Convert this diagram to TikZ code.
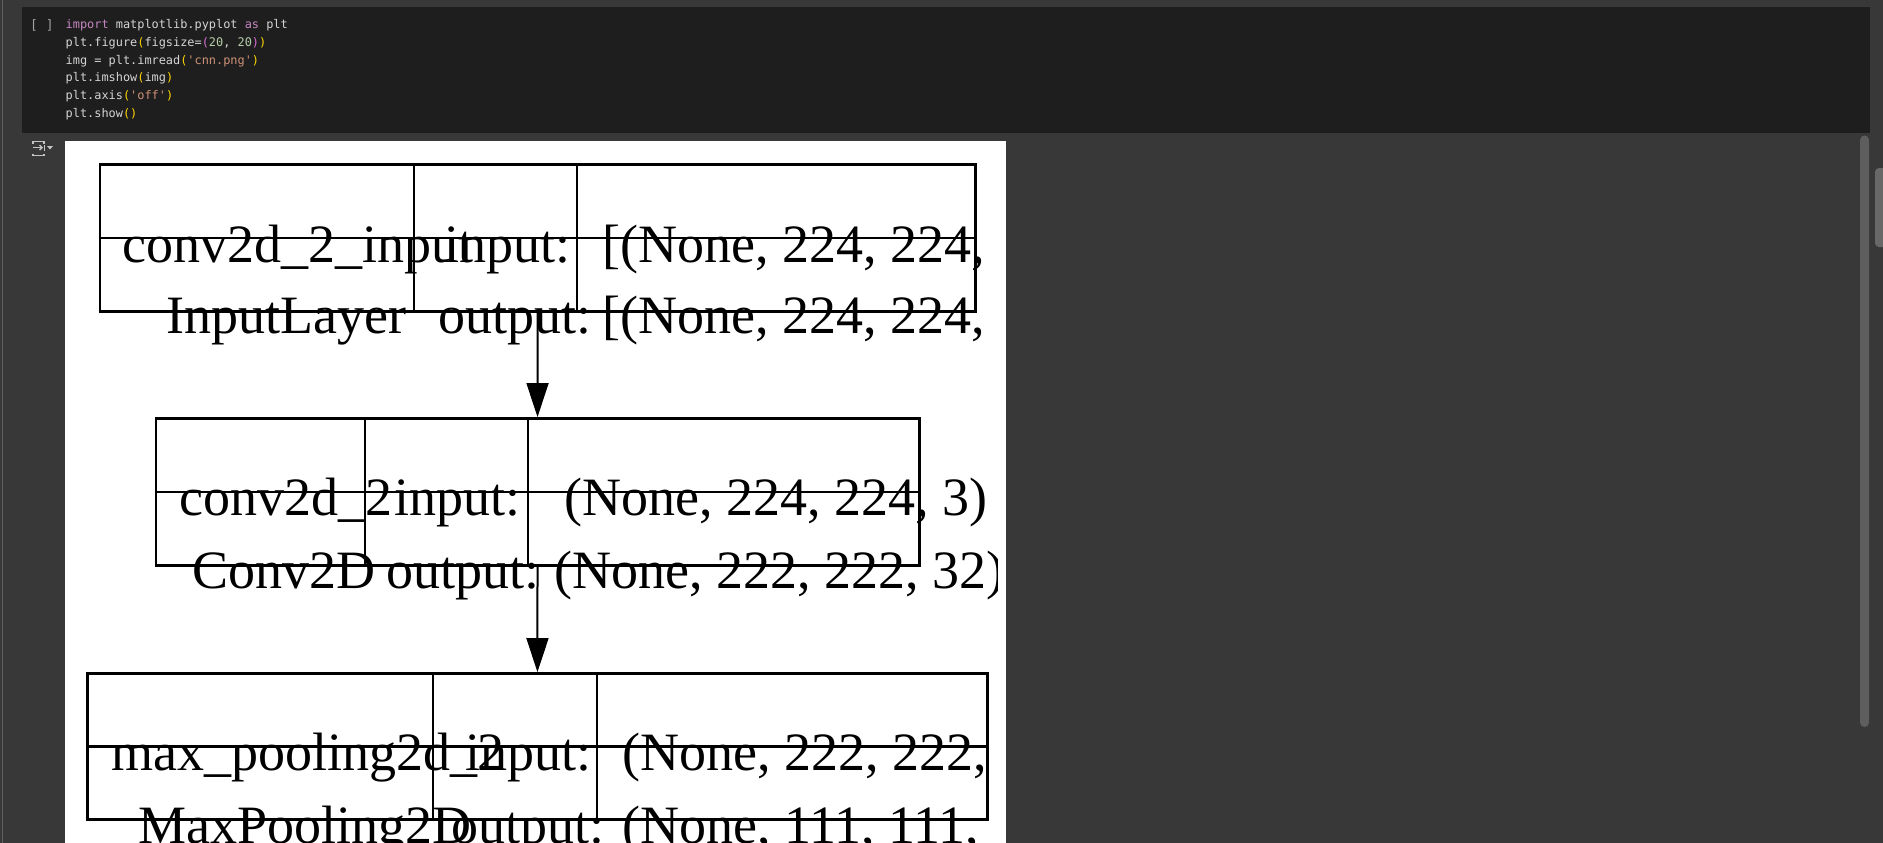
\documentclass[tikz,border=0pt]{standalone}
\usepackage{fontspec}
\setmainfont{Liberation Serif}
\setmonofont{DejaVu Sans Mono}
\usepackage{xcolor}
\usetikzlibrary{arrows.meta,positioning}

\definecolor{pagebg}{HTML}{383838}
\definecolor{cellbg}{HTML}{1E1E1E}
\definecolor{codefg}{HTML}{D4D4D4}
\definecolor{kwcol}{HTML}{C586C0}
\definecolor{numcol}{HTML}{B5CEA8}
\definecolor{strcol}{HTML}{CE9178}
\definecolor{bracecol}{HTML}{FFD700}
\definecolor{bracetwo}{HTML}{DA70D6}
\definecolor{iconcol}{HTML}{C4C4C4}
\definecolor{trackcol}{HTML}{5E5E5E}
\definecolor{thumbcol}{HTML}{686868}

\begin{document}
\begin{tikzpicture}[x=1pt,y=-1pt,
  box/.style={draw,line width=2.5pt,rectangle,inner sep=0pt,anchor=north west},
  lbl/.style={anchor=base west,inner sep=0pt,font=\fontsize{54}{54}\selectfont},
  codeline/.style={anchor=base west,inner sep=0pt,text=codefg,font=\ttfamily\fontsize{11.9}{11.9}\selectfont},
  flow/.style={line width=2pt,-{Triangle[length=34pt,width=22pt]}}]
\useasboundingbox (0,0) rectangle (1883,843);
\fill[pagebg] (0,0) rectangle (1883,843);
\draw[line width=0.8pt,color=pagebg!80!white] (2.5,0) -- (2.5,843);

% code cell
\fill[cellbg] (22,7) rectangle (1870,132.5);
\node[codeline,text=codefg!75!black,font=\ttfamily\fontsize{13}{13}\selectfont] (runmark) at (30,29.5) {[ ]};
\node[codeline] (line1) at (65.5,28.5) {\textcolor{kwcol}{import} matplotlib.pyplot \textcolor{kwcol}{as} plt};
\node[codeline] (line2) at (65.5,46.3) {plt.figure\textcolor{bracecol}{(}figsize=\textcolor{bracetwo}{(}\textcolor{numcol}{20}, \textcolor{numcol}{20}\textcolor{bracetwo}{)}\textcolor{bracecol}{)}};
\node[codeline] (line3) at (65.5,64.1) {img = plt.imread\textcolor{bracecol}{(}\textcolor{strcol}{'cnn.png'}\textcolor{bracecol}{)}};
\node[codeline] (line4) at (65.5,81.9) {plt.imshow\textcolor{bracecol}{(}img\textcolor{bracecol}{)}};
\node[codeline] (line5) at (65.5,99.7) {plt.axis\textcolor{bracecol}{(}\textcolor{strcol}{'off'}\textcolor{bracecol}{)}};
\node[codeline] (line6) at (65.5,117.5) {plt.show\textcolor{bracecol}{()}};

% output icon
\draw[iconcol,line width=1.3pt] (33,143.5) -- (33,141.5) -- (44,141.5) -- (44,143.5);
\draw[iconcol,line width=1.3pt,-{Straight Barb[length=2.5pt,width=5pt]}] (33,147.5) -- (43,147.5);
\draw[iconcol,line width=1.3pt] (44.5,144.5) -- (44.5,150.5);
\fill[iconcol] (47,146) -- (53,146) -- (50,149.5) -- cycle;
\draw[iconcol,line width=1.3pt] (33,153.5) -- (33,155.5) -- (44,155.5) -- (44,153.5);

% scrollbars
\fill[trackcol,rounded corners=4.5pt] (1860,135.5) rectangle (1869,727);
\fill[thumbcol,rounded corners=4pt] (1875,168) rectangle (1890,247);

% model plot
\fill[white] (65,141) rectangle (1006,843);
\node[box,minimum width=875.5pt,minimum height=147pt] (inputbox) at (98.5,163) {};
\node[box,minimum width=763.4pt,minimum height=147pt] (convbox) at (154.6,417) {};
\node[box,minimum width=899.7pt,minimum height=146pt] (poolbox) at (86.3,672) {};
\foreach \b in {inputbox,convbox,poolbox}
  \draw[line width=2.5pt] (\b.west) -- (\b.east);
\foreach \x in {413.5,577}
  \draw[line width=2pt] (\x,0 |- inputbox.north) -- (\x,0 |- inputbox.south);
\foreach \x in {364.6,528}
  \draw[line width=2pt] (\x,0 |- convbox.north) -- (\x,0 |- convbox.south);
\foreach \x in {433,596.5}
  \draw[line width=2pt] (\x,0 |- poolbox.north) -- (\x,0 |- poolbox.south);

\begin{scope}
\clip (65,141) rectangle (997,843);
\node[lbl] (inname) at (122,262) {conv2d\_2\_input};
\node[lbl] (intype) at (166,333) {InputLayer};
\node[lbl] (inin) at (444,262) {input:};
\node[lbl] (inout) at (438,333) {output:};
\node[lbl] (inshapein) at (602,262) {[(None, 224, 224,};
\node[lbl] (inshapeout) at (602,333) {[(None, 224, 224,};
\node[lbl] (convname) at (179,515) {conv2d\_2};
\node[lbl] (convtype) at (192,588) {Conv2D};
\node[lbl] (convin) at (394,515) {input:};
\node[lbl] (convout) at (386,588) {output:};
\node[lbl] (convshapein) at (564,515) {(None, 224, 224, 3)};
\node[lbl] (convshapeout) at (554,588) {(None, 222, 222, 32)};
\node[lbl] (poolname) at (111,770) {max\_pooling2d\_2};
\node[lbl] (pooltype) at (138.5,843) {MaxPooling2D};
\node[lbl] (poolin) at (465,770) {input:};
\node[lbl] (poolout) at (451,843) {output:};
\node[lbl] (poolshapein) at (622,770) {(None, 222, 222,};
\node[lbl] (poolshapeout) at (622,843) {(None, 111, 111,};
\end{scope}

\draw[flow] (inputbox) -- (convbox);
\draw[flow] (convbox) -- (poolbox);
\end{tikzpicture}
\end{document}
